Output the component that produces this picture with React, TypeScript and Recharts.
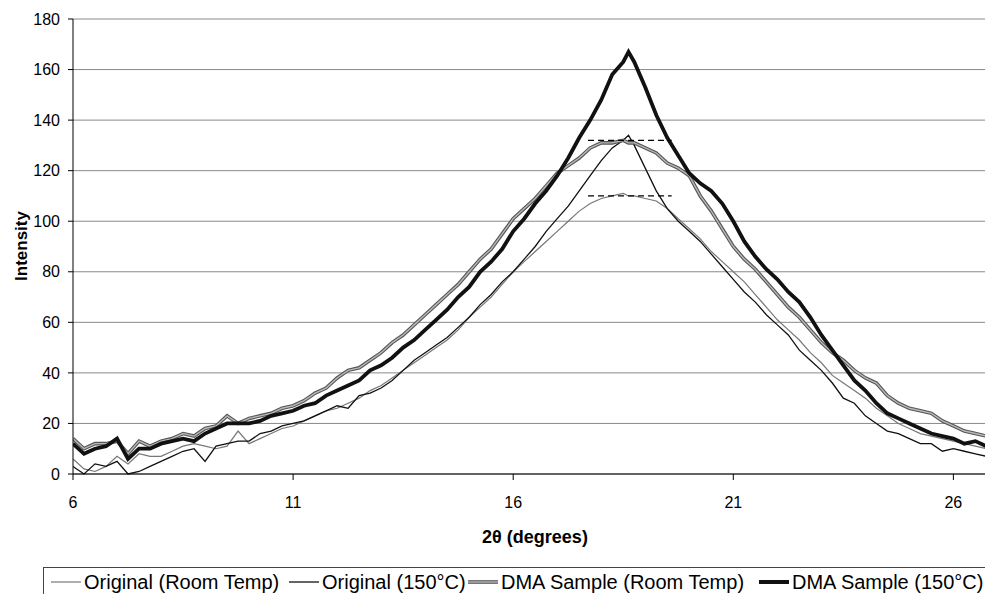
import React from 'react';
import {
  LineChart,
  Line,
  XAxis,
  YAxis,
  CartesianGrid,
  ReferenceLine,
  Label,
} from 'recharts';

const angles = [
  6, 6.25, 6.5, 6.75, 7, 7.25, 7.5, 7.75, 8, 8.25, 8.5, 8.75,
  9, 9.25, 9.5, 9.75, 10, 10.25, 10.5, 10.75, 11, 11.25, 11.5, 11.75,
  12, 12.25, 12.5, 12.75, 13, 13.25, 13.5, 13.75, 14, 14.25, 14.5, 14.75,
  15, 15.25, 15.5, 15.75, 16, 16.25, 16.5, 16.75, 17, 17.25, 17.5, 17.75,
  18, 18.25, 18.5, 18.62, 18.75, 19, 19.25, 19.5, 19.75, 20, 20.25, 20.5, 20.75,
  21, 21.25, 21.5, 21.75, 22, 22.25, 22.5, 22.75, 23, 23.25, 23.5, 23.75,
  24, 24.25, 24.5, 24.75, 25, 25.25, 25.5, 25.75, 26, 26.25, 26.5, 26.75, 26.9,
];

const originalRoomTemp = [
  6, 2, 1, 3, 7, 4, 8, 7, 7, 9, 11, 12,
  11, 10, 11, 17, 12, 14, 16, 18, 19, 21, 23, 25,
  26, 28, 30, 33, 35, 38, 41, 44, 47, 50, 53, 57,
  62, 66, 70, 75, 80, 84, 88, 92, 96, 100, 104, 107,
  109, 110, 111, 110, 110, 109, 108, 105, 101, 97, 93, 88, 84,
  80, 76, 71, 66, 61, 57, 53, 48, 44, 39, 36, 33,
  30, 26, 23, 20, 18, 16, 15, 14, 13, 12, 11, 10, 9,
];

const original150 = [
  3, 0, 4, 3, 5, 0, 1, 3, 5, 7, 9, 10,
  5, 11, 12, 13, 13, 16, 17, 19, 20, 21, 23, 25,
  27, 26, 31, 32, 34, 37, 41, 45, 48, 51, 54, 58,
  62, 67, 71, 76, 80, 85, 90, 96, 101, 106, 112, 118,
  124, 129, 132, 134, 130, 121, 112, 105, 100, 96, 92, 87, 82,
  77, 72, 68, 63, 59, 55, 49, 45, 41, 36, 30, 28,
  23, 20, 17, 16, 14, 12, 12, 9, 10, 9, 8, 7, 5,
];

const dmaRoomTemp = [
  14, 10, 12, 12, 13, 8, 13, 11, 13, 14, 16, 15,
  18, 19, 23, 20, 22, 23, 24, 26, 27, 29, 32, 34,
  38, 41, 42, 45, 48, 52, 55, 59, 63, 67, 71, 75,
  80, 85, 89, 95, 101, 105, 109, 114, 119, 122, 125, 129,
  131, 131, 132, 131, 131, 129, 127, 123, 121, 118, 110, 104, 97,
  90, 85, 81, 76, 71, 66, 62, 57, 52, 48, 45, 41,
  38, 36, 31, 28, 26, 25, 24, 21, 19, 17, 16, 15, 13,
];

const dma150 = [
  12, 8, 10, 11, 14, 6, 10, 10, 12, 13, 14, 13,
  16, 18, 20, 20, 20, 21, 23, 24, 25, 27, 28, 31,
  33, 35, 37, 41, 43, 46, 50, 53, 57, 61, 65, 70,
  74, 80, 84, 89, 96, 101, 107, 112, 118, 125, 133, 140,
  148, 158, 163, 167, 163, 153, 142, 133, 126, 119, 115, 112, 107,
  100, 92, 86, 81, 77, 72, 68, 62, 55, 49, 43, 37,
  33, 28, 24, 22, 20, 18, 16, 15, 14, 12, 13, 11, 7,
];

const xTicks = [6, 11, 16, 21, 26];
const yTicks = [0, 20, 40, 60, 80, 100, 120, 140, 160, 180];

// dashed plateau markers near the peaks
const plateauLevels = [132, 110];
const plateauFrom = 17.7;
const plateauTo = 19.6;

const FONT = '"Liberation Sans", Arial, Helvetica, sans-serif';

const data = angles.map((angle, i) => ({
  angle,
  origRT: originalRoomTemp[i],
  orig150: original150[i],
  dmaRT: dmaRoomTemp[i],
  dma150: dma150[i],
}));

const Swatch = ({ kind }: { kind: string }) => (
  <svg width={30} height={10} style={{ display: 'block' }}>
    {kind === 'origRT' && <line x1={0} y1={5} x2={30} y2={5} stroke="#777" strokeWidth={1.2} />}
    {kind === 'orig150' && <line x1={0} y1={5} x2={30} y2={5} stroke="#111" strokeWidth={1.3} />}
    {kind === 'dmaRT' && (
      <>
        <line x1={0} y1={5} x2={30} y2={5} stroke="#555" strokeWidth={3.6} />
        <line x1={0} y1={5} x2={30} y2={5} stroke="#b8b8b8" strokeWidth={1.4} />
      </>
    )}
    {kind === 'dma150' && <line x1={0} y1={5} x2={30} y2={5} stroke="#111" strokeWidth={4} />}
  </svg>
);

const legendItems = [
  { kind: 'origRT', name: 'Original (Room Temp)', left: 7 },
  { kind: 'orig150', name: 'Original (150°C)', left: 245 },
  { kind: 'dmaRT', name: 'DMA Sample (Room Temp)', left: 424 },
  { kind: 'dma150', name: 'DMA Sample (150°C)', left: 715 },
];

const App = () => {
  return (
    <div style={{ position: 'relative', width: 985, height: 586, fontFamily: FONT }}>
      <LineChart
        width={985}
        height={586}
        data={data}
        margin={{ top: 11, right: 0, bottom: 45, left: 0 }}
      >
        <CartesianGrid vertical={false} stroke="#8a8a8a" />
        <XAxis
          dataKey="angle"
          type="number"
          domain={[6, 26.9]}
          ticks={xTicks}
          interval={0}
          allowDataOverflow
          height={75}
          tickSize={6}
          tickMargin={17}
          axisLine={{ stroke: '#000' }}
          tickLine={{ stroke: '#000' }}
          tick={{ fill: '#000', fontSize: 16, fontFamily: FONT }}
        >
          <Label
            content={() => (
              <text
                x={527}
                y={535}
                textAnchor="middle"
                fontSize={18}
                fontWeight="bold"
                fontFamily={FONT}
                fill="#000"
              >
                2θ (degrees)
              </text>
            )}
          />
        </XAxis>
        <YAxis
          domain={[0, 180]}
          ticks={yTicks}
          interval={0}
          width={65}
          tickSize={5}
          tickMargin={8}
          axisLine={{ stroke: '#000' }}
          tickLine={{ stroke: '#000' }}
          tick={{ fill: '#000', fontSize: 16, fontFamily: FONT }}
        >
          <Label
            content={() => (
              <text
                x={19}
                y={238}
                transform="rotate(-90, 19, 238)"
                textAnchor="middle"
                fontSize={17}
                fontWeight="bold"
                fontFamily={FONT}
                fill="#000"
              >
                Intensity
              </text>
            )}
          />
        </YAxis>
        <Line
          dataKey="origRT"
          stroke="#777"
          strokeWidth={1.2}
          dot={false}
          activeDot={false}
          isAnimationActive={false}
        />
        <Line
          dataKey="orig150"
          stroke="#111"
          strokeWidth={1.3}
          dot={false}
          activeDot={false}
          isAnimationActive={false}
        />
        <Line
          dataKey="dmaRT"
          stroke="#555"
          strokeWidth={3.6}
          dot={false}
          activeDot={false}
          isAnimationActive={false}
        />
        <Line
          dataKey="dmaRT"
          stroke="#b8b8b8"
          strokeWidth={1.4}
          dot={false}
          activeDot={false}
          legendType="none"
          isAnimationActive={false}
        />
        <Line
          dataKey="dma150"
          stroke="#111"
          strokeWidth={3.8}
          dot={false}
          activeDot={false}
          isAnimationActive={false}
        />
        {plateauLevels.map((level) => (
          <ReferenceLine
            key={level}
            segment={[
              { x: plateauFrom, y: level },
              { x: plateauTo, y: level },
            ]}
            stroke="#000"
            strokeWidth={1.2}
            strokeDasharray="6 4"
          />
        ))}
      </LineChart>
      <div
        style={{
          position: 'absolute',
          left: 35,
          top: 559,
          width: 946,
          height: 27,
          borderTop: '1px solid #444',
          borderLeft: '1px solid #444',
          borderRight: '1px solid #444',
          boxSizing: 'border-box',
        }}
      >
        {legendItems.map((item) => (
          <div
            key={item.kind}
            style={{
              position: 'absolute',
              left: item.left,
              top: 3,
              display: 'flex',
              alignItems: 'center',
              gap: 3,
              fontSize: 20,
              lineHeight: '22px',
              color: '#000',
              whiteSpace: 'nowrap',
            }}
          >
            <Swatch kind={item.kind} />
            <span>{item.name}</span>
          </div>
        ))}
      </div>
    </div>
  );
};

export default App;
